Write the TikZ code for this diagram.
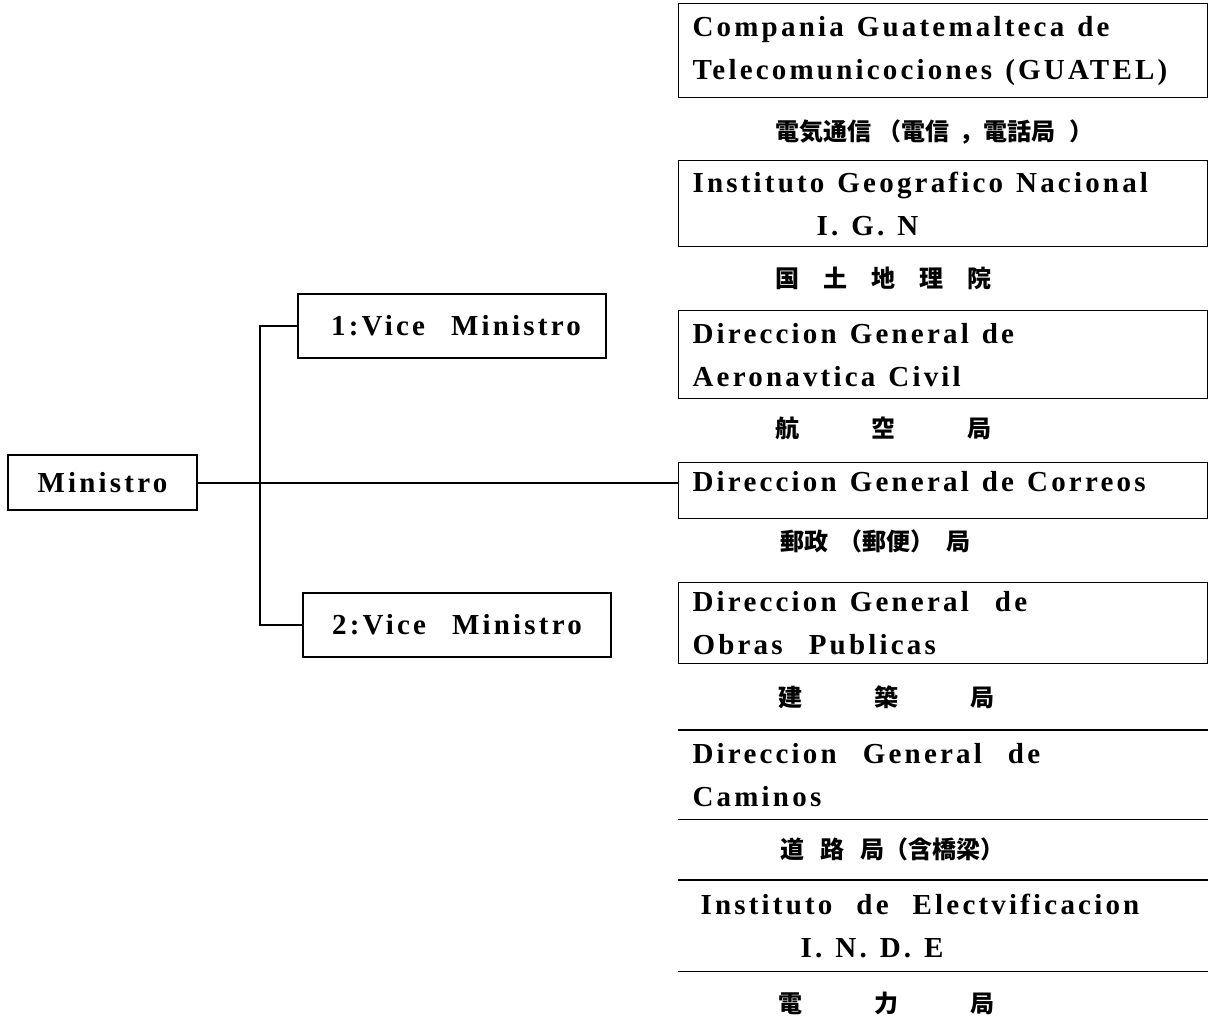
\documentclass[tikz,border=0pt]{standalone}
\usepackage{fontspec}
\setmainfont{Liberation Serif}
\newfontfamily\orgfamily{Liberation Serif}[LetterSpace=11,WordSpace=2.5]
\newfontfamily\jpfamily{Noto Sans CJK JP}
\newcommand{\orgfont}{\orgfamily\bfseries\fontsize{14.5}{21.5}\selectfont}
\newcommand{\jpfont}{\jpfamily\bfseries\fontsize{12}{14}\selectfont}
\usetikzlibrary{positioning}

\tikzset{
  office/.style={draw, line width=0.8pt, minimum width=154pt, minimum height=32pt, inner sep=0pt, font=\orgfont},
  bureau/.style={draw, line width=0.6pt, anchor=north west, minimum width=264.5pt, text width=250.5pt,
                 inner xsep=7pt, inner ysep=0pt, align=left, font=\orgfont,
                 execute at begin node={\spaceskip=0.45em\relax}},
  bureau open/.style={bureau, draw=none},
  jplabel/.style={anchor=west, inner sep=0pt, font=\jpfont},
  link/.style={line width=1pt},
}

\begin{document}
\begin{tikzpicture}[x=0.5pt,y=-0.5pt]
\useasboundingbox (0,0) rectangle (1209,1021);

% ministro and vice ministros
\node[office, minimum width=94.5pt, minimum height=27.5pt] (min) at (102.5,482.5) {Ministro};
\node[office] (vice1) at (452,326) {\hspace*{4pt}1:Vice Ministro};
\node[office] (vice2) at (457,625) {2:Vice Ministro};

% dependencias
\node[bureau, minimum height=47pt] (guatel) at (678,3) {Compania Guatemalteca de\\Telecomunicociones (GUATEL)};
\node[bureau, minimum height=43pt] (ign) at (678,160) {Instituto Geografico Nacional\\\hspace*{62pt}I. G. N};
\node[bureau, minimum height=44pt] (aero) at (678,310) {Direccion General de\\Aeronavtica Civil};
\node[bureau, minimum height=28pt] (correos) at (678,462) {\raisebox{9pt}{Direccion General de Correos}};
\node[bureau, minimum height=40.5pt] (obras) at (678,582) {Direccion General\ \ de\\Obras\ \ Publicas};
\node[bureau open, minimum height=44pt] (caminos) at (678,730) {Direccion\ \ General\ \ de\\Caminos};
\node[bureau open, minimum height=45pt] (inde) at (678,880)
  {\hspace*{4pt}Instituto\hspace{12pt}de\hspace{12pt}Electvificacion\\\hspace*{54pt}I. N. D. E};
\foreach \b in {caminos,inde}
  \draw[line width=0.6pt] (\b.north west) -- (\b.north east) (\b.south west) -- (\b.south east);

\node[jplabel] (l-guatel) at (775,132) {電気通信\hspace{3pt}（電信\hspace{5pt}，電話局\hspace{7pt}）};
\node[jplabel] (l-ign) at (775,278) {国　土　地　理　院};
\node[jplabel] (l-aero) at (775,428) {航　　　空　　　局};
\node[jplabel] (l-correos) at (780,541) {郵政\hspace{5pt}（郵便）\hspace{6pt}局};
\node[jplabel] (l-obras) at (778,697) {建　　　築　　　局};
\node[jplabel] (l-caminos) at (780,849) {道\hspace{8pt}路\hspace{8pt}局（含橋梁）};
\node[jplabel] (l-inde) at (778,1003) {電　　　力　　　局};

% lineas
\coordinate (fork) at (260,482.5);
\draw[link] (min.east) -- (min.east -| correos.west);
\draw[link] (fork) |- (vice1.west);
\draw[link] (fork) |- (vice2.west);
\end{tikzpicture}
\end{document}
